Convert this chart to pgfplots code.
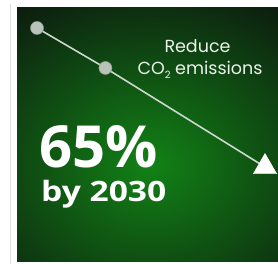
\documentclass[border=0pt]{standalone}
\usepackage{fontspec}
\usepackage{pgfplots}
\pgfplotsset{compat=1.18}
\setmainfont{Open Sans}
\newfontfamily\poppins{Poppins}
\definecolor{bgdark}{RGB}{12,18,14}
\definecolor{glow}{RGB}{18,130,22}
\definecolor{linec}{RGB}{205,215,205}
\definecolor{dotc}{RGB}{185,195,185}
\definecolor{tickc}{RGB}{45,85,45}
\definecolor{txt}{RGB}{235,242,235}
\begin{document}
\begin{tikzpicture}
\path[use as bounding box, fill=white] (0,0) rectangle (278pt,264pt);
\draw[black!12, line width=0.8pt] (10.5pt,0) -- (10.5pt,260pt);
\begin{axis}[
  at={(17pt,2pt)}, anchor=south west,
  scale only axis, width=261pt, height=254pt,
  xmin=1986.49, xmax=2032.28, ymin=-9.43, ymax=109.35,
  axis line style={draw=none},
  axis background/.style={fill=bgdark},
  ytick=\empty,
  xtick={1990,2010,2030},
  xticklabels={1990,2010,2030},
  major tick length=0pt,
  xmajorgrids, grid style={white, opacity=0.05, line width=0.8pt},
  xticklabel style={anchor=center, yshift=30pt, text=tickc, font=\fontsize{6}{7}\selectfont},
  clip=false,
]
\begin{scope}
\clip (axis cs:1986.49,-9.43) rectangle (axis cs:2032.28,109.35);
\shade[inner color=glow, outer color=bgdark] (axis cs:2009.8,35.9) ellipse [x radius=255pt, y radius=210pt];
\end{scope}
\addplot[linec, line width=1.6pt, mark=none] coordinates {(1990,100) (2002,81.3) (2030,35)};
\addplot[only marks, mark=*, mark size=6.5pt, mark options={fill=dotc, draw=dotc!80!black, line width=0.5pt}] coordinates {(1990,100) (2002,81.3)};
\addplot[only marks, mark=triangle*, mark size=13.5pt, mark options={fill=white, draw=white}] coordinates {(2030,35)};
\end{axis}
\node[anchor=base, inner sep=0, text=txt, font=\poppins\fontsize{17.5}{19}\selectfont] at (197.5pt,211pt) {Reduce};
\node[anchor=base, inner sep=0, text=txt, font=\poppins\fontsize{17.5}{19}\selectfont] at (200pt,189pt) {CO\raisebox{-0.35ex}{\fontsize{10}{11}\selectfont 2} emissions};
\node[anchor=base west, inner sep=0, text=white, font=\bfseries\fontsize{58}{60}\selectfont] at (39pt,96pt) {65\%};
\node[anchor=base west, inner sep=0, text=white, font=\bfseries\fontsize{28}{30}\selectfont] at (41pt,62pt) {\scalebox{1.2}[1]{by 2030}};
\end{tikzpicture}
\end{document}
